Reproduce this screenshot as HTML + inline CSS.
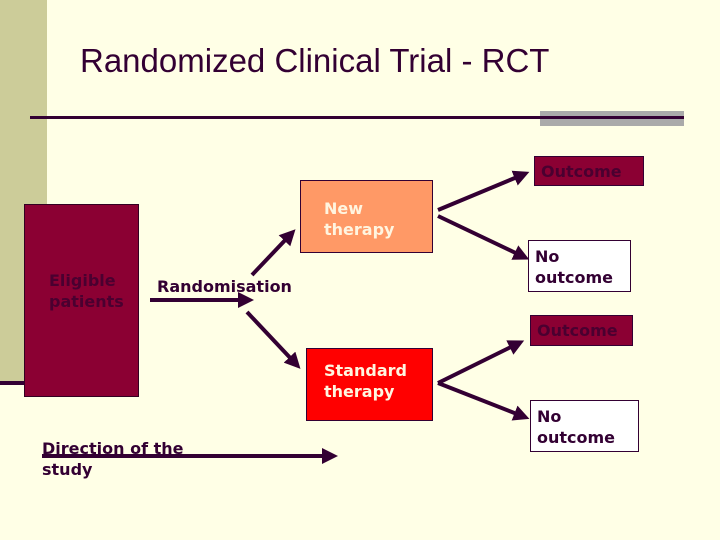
<!DOCTYPE html>
<html><head><style>
body{margin:0;width:720px;height:540px;background:#ffffe6;position:relative;overflow:hidden;font-family:"DejaVu Sans","Liberation Sans",sans-serif;}
.a{position:absolute}
.t{position:absolute;font-weight:bold;font-size:16px;line-height:21px}
</style></head><body>
<div class="a" style="left:0;top:0;width:47px;height:383px;background:#cccc99"></div>
<div class="a" style="left:0;top:381px;width:30px;height:4px;background:#330033"></div>
<div class="a" style="left:80px;top:42px;font-family:'Liberation Sans',sans-serif;font-size:33px;color:#330033">Randomized Clinical Trial - RCT</div>
<div class="a" style="left:540px;top:111px;width:144px;height:15px;background:#aaaaaa"></div>
<div class="a" style="left:30px;top:116px;width:654px;height:3px;background:#330033"></div>
<div class="a" style="left:24px;top:204px;width:113px;height:191px;background:#8b0033;border:1px solid #330022"></div>
<div class="t" style="left:49px;top:270px;color:#4a0030">Eligible<br>patients</div>
<div class="t" style="left:157px;top:276px;color:#330033">Randomisation</div>
<div class="a" style="left:300px;top:180px;width:131px;height:71px;background:#ff9966;border:1px solid #330033"></div>
<div class="t" style="left:324px;top:198px;color:#fff5e0">New<br>therapy</div>
<div class="a" style="left:306px;top:348px;width:125px;height:71px;background:#ff0000;border:1px solid #330033"></div>
<div class="t" style="left:324px;top:360px;color:#fff5e0">Standard<br>therapy</div>
<div class="a" style="left:534px;top:156px;width:108px;height:28px;background:#8b0033;border:1px solid #330033"></div>
<div class="t" style="left:541px;top:161px;color:#4a0030">Outcome</div>
<div class="a" style="left:528px;top:240px;width:101px;height:50px;background:#fff;border:1px solid #330033"></div>
<div class="t" style="left:535px;top:246px;color:#330033">No<br>outcome</div>
<div class="a" style="left:530px;top:315px;width:101px;height:29px;background:#8b0033;border:1px solid #330033"></div>
<div class="t" style="left:537px;top:320px;color:#4a0030">Outcome</div>
<div class="a" style="left:530px;top:400px;width:107px;height:50px;background:#fff;border:1px solid #330033"></div>
<div class="t" style="left:537px;top:406px;color:#330033">No<br>outcome</div>
<div class="t" style="left:42px;top:438px;color:#330033">Direction of the<br>study</div>
<svg class="a" style="left:0;top:0" width="720" height="540">
<defs><marker id="m" markerWidth="4" markerHeight="4" refX="2" refY="2" orient="auto"><path d="M0,0L4,2L0,4z" fill="#330033"/></marker></defs>
<g stroke="#330033" stroke-width="4" marker-end="url(#m)">
<line x1="150" y1="300" x2="246" y2="300"/>
<line x1="252" y1="275" x2="290" y2="235"/>
<line x1="247" y1="312" x2="295" y2="363"/>
<line x1="438" y1="210" x2="522" y2="175"/>
<line x1="438" y1="216" x2="522" y2="256"/>
<line x1="438" y1="383" x2="517" y2="344"/>
<line x1="438" y1="383" x2="522" y2="416"/>
<line x1="42" y1="456" x2="330" y2="456"/>
</g></svg>
</body></html>
